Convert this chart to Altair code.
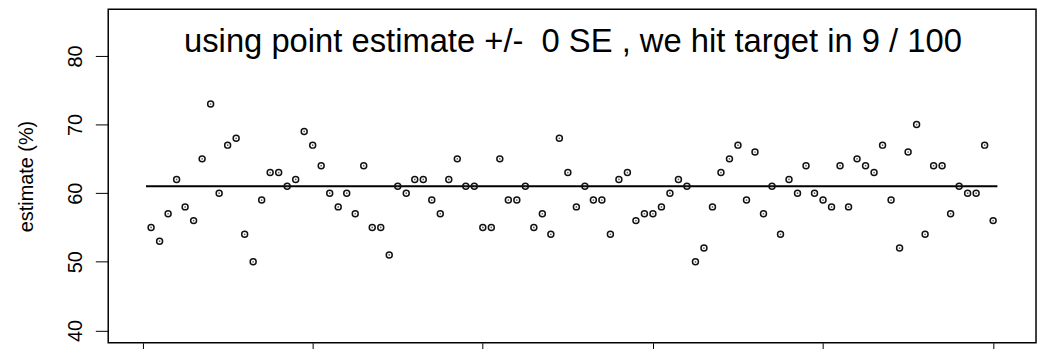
import altair as alt
import pandas as pd

estimates = [55, 53, 57, 62, 58, 56, 65, 73, 60, 67,
             68, 54, 50, 59, 63, 63, 61, 62, 69, 67,
             64, 60, 58, 60, 57, 64, 55, 55, 51, 61,
             60, 62, 62, 59, 57, 62, 65, 61, 61, 55,
             55, 65, 59, 59, 61, 55, 57, 54, 68, 63,
             58, 61, 59, 59, 54, 62, 63, 56, 57, 57,
             58, 60, 62, 61, 50, 52, 58, 63, 65, 67,
             59, 66, 57, 61, 54, 62, 60, 64, 60, 59,
             58, 64, 58, 65, 64, 63, 67, 59, 52, 66,
             70, 54, 64, 64, 57, 61, 60, 60, 67, 56]
sample_index = list(range(1, len(estimates) + 1))
target = 61
line_start, line_end = 0.4, 100.5
x_ticks = [0, 20, 40, 60, 80, 100]
y_ticks = [40, 50, 60, 70, 80]
x_domain = [-4.04, 105.04]
y_domain = [38.2, 86.8]
title_text = "using point estimate +/- \u00a00 SE , we hit target in 9 / 100"
title_pos = [50.6, 80.6]

FONT = "Liberation Sans"

pts = pd.DataFrame({"i": sample_index, "est": estimates})
line_df = pd.DataFrame({"x": [line_start], "x2": [line_end], "y": [target]})
title_df = pd.DataFrame({"x": [title_pos[0]], "y": [title_pos[1]], "t": [title_text]})

xs = alt.Scale(domain=x_domain, nice=False, zero=False)
ys = alt.Scale(domain=y_domain, nice=False, zero=False)

PLOT_H = 336

x_axis = alt.Axis(values=x_ticks, tickSize=14, tickColor="black", tickWidth=1,
                  domain=False, grid=False, labels=False, title=None)
y_axis = alt.Axis(values=y_ticks, tickSize=13, tickColor="black", tickWidth=1,
                  domain=False, grid=False, labelFont=FONT, labelFontSize=20,
                  labelColor="black", labelAngle=-90, labelAlign="center",
                  labelBaseline="alphabetic", labelPadding=14,
                  title="estimate (%)", titleFont=FONT, titleFontSize=20,
                  titleFontWeight="normal", titleColor="black", titleAngle=-90,
                  titleAlign="center", titleBaseline="alphabetic",
                  titleX=-76, titleY=PLOT_H / 2)

points = alt.Chart(pts).mark_point(shape="circle", filled=False, color="#111111",
                                   size=36, strokeWidth=1.5, opacity=1).encode(
    x=alt.X("i:Q", scale=xs, axis=x_axis),
    y=alt.Y("est:Q", scale=ys, axis=y_axis),
)

centers = alt.Chart(pts).mark_point(shape="circle", filled=True, color="#333333",
                                    size=3, opacity=0.8, strokeWidth=0).encode(
    x=alt.X("i:Q", scale=xs),
    y=alt.Y("est:Q", scale=ys),
)

rule = alt.Chart(line_df).mark_rule(color="black", strokeWidth=2).encode(
    x=alt.X("x:Q", scale=xs), x2="x2:Q", y=alt.Y("y:Q", scale=ys)
)

title = alt.Chart(title_df).mark_text(font=FONT, fontSize=33, color="black",
                                      align="center", baseline="alphabetic").encode(
    x=alt.X("x:Q", scale=xs), y=alt.Y("y:Q", scale=ys), text="t:N"
)

chart = alt.layer(rule, points, centers, title).properties(
    width=935, height=PLOT_H,
    autosize=alt.AutoSizeParams(type="none"),
    padding={"left": 101, "top": 0, "right": 2, "bottom": 5},
    background="white",
).configure_view(stroke="black", strokeWidth=1.5)

chart.save("out.html", embed_options={"renderer": "svg", "actions": False})
